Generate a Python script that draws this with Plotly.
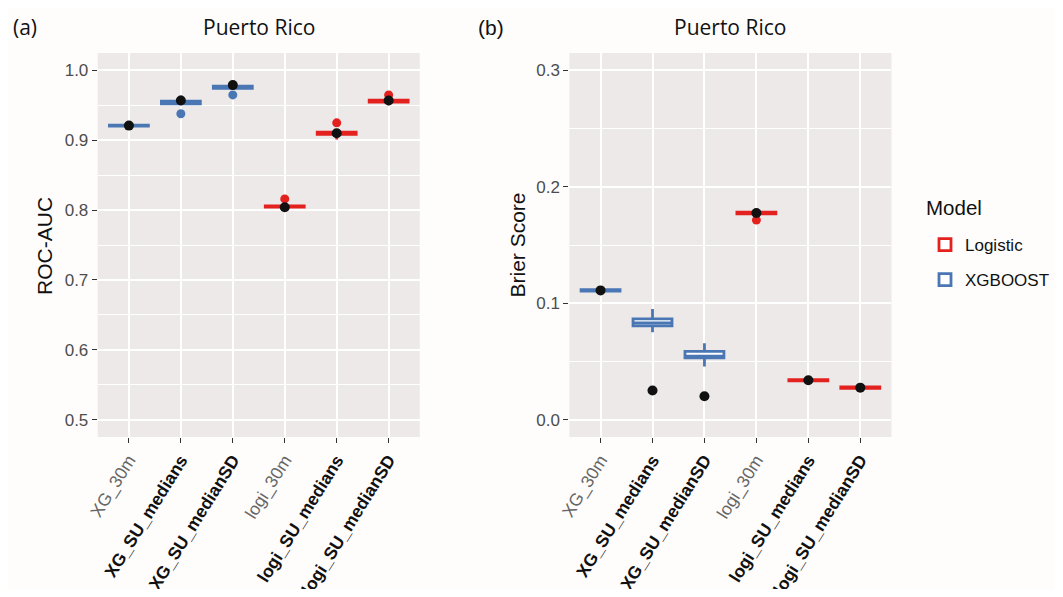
import plotly.graph_objects as go

# ---------------- data ----------------
categories = ["XG_30m", "XG_SU_medians", "XG_SU_medianSD",
              "logi_30m", "logi_SU_medians", "logi_SU_medianSD"]
models = ["XGBOOST", "XGBOOST", "XGBOOST", "Logistic", "Logistic", "Logistic"]

# Panel (a) ROC-AUC box statistics
roc_q1 = [0.9202, 0.9520, 0.9745, 0.8043, 0.9085, 0.9545]
roc_med = [0.9210, 0.9540, 0.9760, 0.8050, 0.9100, 0.9560]
roc_q3 = [0.9218, 0.9560, 0.9775, 0.8060, 0.9115, 0.9575]
roc_lo = [0.9198, 0.9500, 0.9730, 0.8020, 0.9010, 0.9500]
roc_hi = [0.9222, 0.9640, 0.9790, 0.8080, 0.9150, 0.9590]
roc_out_x = ["XG_SU_medians", "XG_SU_medianSD", "logi_30m", "logi_SU_medians", "logi_SU_medianSD"]
roc_out_y = [0.938, 0.965, 0.816, 0.925, 0.965]
roc_ref = [0.921, 0.957, 0.979, 0.804, 0.910, 0.957]

# Panel (b) Brier score box statistics
bri_q1 = [0.1103, 0.0805, 0.0530, 0.1768, 0.0333, 0.0268]
bri_med = [0.1110, 0.0830, 0.0545, 0.1775, 0.0338, 0.0274]
bri_q3 = [0.1117, 0.0865, 0.0585, 0.1782, 0.0343, 0.0280]
bri_lo = [0.1098, 0.0750, 0.0455, 0.1762, 0.0328, 0.0263]
bri_hi = [0.1122, 0.0950, 0.0655, 0.1788, 0.0348, 0.0285]
bri_out_x = ["logi_30m"]
bri_out_y = [0.1714]
bri_ref = [0.111, 0.025, 0.020, 0.1775, 0.0338, 0.0274]

tick_labels = ["XG_30m", "<b><span style='color:#111111'>XG_SU_medians</span></b>",
               "<b><span style='color:#111111'>XG_SU_medianSD</span></b>", "logi_30m",
               "<b><span style='color:#111111'>logi_SU_medians</span></b>",
               "<b><span style='color:#111111'>logi_SU_medianSD</span></b>"]

colors = {"Logistic": "#E3211E", "XGBOOST": "#4A77B4"}

OFF = 8  # page body margin
W, H = 1063 - 2 * OFF, 597 - 2 * OFF
def px(v): return (v - OFF) / W
def py(v): return 1 - (v - OFF) / H

fig = go.Figure()

def add_panel(xa, ya, q1, med, q3, lo, hi, ox, oy, ref, show_legend):
    for m in ["Logistic", "XGBOOST"]:
        idx = [i for i, mm in enumerate(models) if mm == m]
        fig.add_trace(go.Box(
            x=[categories[i] for i in idx],
            q1=[q1[i] for i in idx], median=[med[i] for i in idx],
            q3=[q3[i] for i in idx], lowerfence=[lo[i] for i in idx],
            upperfence=[hi[i] for i in idx],
            name=m, legendgroup=m, showlegend=show_legend,
            line=dict(color=colors[m], width=2.8), fillcolor="white",
            width=0.75, whiskerwidth=0, boxpoints=False,
            xaxis=xa, yaxis=ya, hoverinfo="skip"))
    oc = [colors[models[categories.index(c)]] for c in ox]
    fig.add_trace(go.Scatter(x=ox, y=oy, mode="markers", showlegend=False,
                             marker=dict(color=oc, size=9), xaxis=xa, yaxis=ya))
    fig.add_trace(go.Scatter(x=categories, y=ref, mode="markers", showlegend=False,
                             marker=dict(color="#111111", size=10), xaxis=xa, yaxis=ya))

add_panel("x", "y", roc_q1, roc_med, roc_q3, roc_lo, roc_hi, roc_out_x, roc_out_y, roc_ref, True)
add_panel("x2", "y2", bri_q1, bri_med, bri_q3, bri_lo, bri_hi, bri_out_x, bri_out_y, bri_ref, False)

sans = "Liberation Sans, Arial, sans-serif"
tickfont = dict(family=sans, size=17.5, color="#666666")
xcommon = dict(type="category", categoryorder="array", categoryarray=categories,
               tickmode="array", tickvals=categories, ticktext=tick_labels,
               tickangle=-58, tickfont=tickfont, ticks="outside", ticklen=5,
               tickcolor="#333333", tickwidth=1.2, showgrid=True, gridcolor="white",
               gridwidth=1.6, zeroline=False, showline=False, automargin=False,
               range=[-0.6, 5.6], fixedrange=True)
ytickfont = dict(family=sans, size=17, color="#4D4D4D")
ycommon = dict(ticks="outside", ticklen=5, tickcolor="#333333", tickwidth=1.2,
               tickfont=ytickfont, tickformat=".1f", showgrid=True, gridcolor="white",
               gridwidth=1.6, zeroline=False, showline=False, automargin=False)

fig.update_layout(
    width=W, height=H, margin=dict(l=0, r=0, t=0, b=0),
    paper_bgcolor="#FEFDFC", plot_bgcolor="#EDE9E9",
    boxmode="overlay",
    xaxis=dict(domain=[px(98), px(421)], anchor="y", **xcommon),
    yaxis=dict(domain=[py(437), py(53)], anchor="x", range=[0.475, 1.025],
               tickvals=[0.5, 0.6, 0.7, 0.8, 0.9, 1.0],
               minor=dict(showgrid=True, gridcolor="white", gridwidth=0.8,
                          tickvals=[0.55, 0.65, 0.75, 0.85, 0.95]), **ycommon),
    xaxis2=dict(domain=[px(571), px(894)], anchor="y2", **xcommon),
    yaxis2=dict(domain=[py(437), py(53)], anchor="x2", range=[-0.015, 0.315],
                tickvals=[0.0, 0.1, 0.2, 0.3],
                minor=dict(showgrid=True, gridcolor="white", gridwidth=0.8,
                           tickvals=[0.05, 0.15, 0.25]), **ycommon),
    legend=dict(x=px(928), y=py(227), xanchor="left", yanchor="top",
                font=dict(size=17, color="#111111", family=sans),
                bgcolor="rgba(0,0,0,0)", tracegroupgap=10, itemwidth=30),
    showlegend=True,
)

ann_font = dict(family="Open Sans, sans-serif", size=21, color="#111111")
annotations = [
    dict(text="(a)", x=px(25), y=py(27), font=ann_font),
    dict(text="(b)", x=px(492), y=py(27), font=dict(family=sans, size=21, color="#111111")),
    dict(text="Puerto Rico", x=px(259.5), y=py(27), font=ann_font),
    dict(text="Puerto Rico", x=px(732.5), y=py(27), font=ann_font),
    dict(text="ROC-AUC", x=px(44), y=py(246), textangle=-90,
         font=dict(family=sans, size=21, color="#111111")),
    dict(text="Brier Score", x=px(518), y=py(245), textangle=-90,
         font=dict(family=sans, size=21, color="#111111")),
    dict(text="Model", x=px(927), y=py(207), xanchor="left",
         font=dict(family=sans, size=20.5, color="#111111")),
]
for a in annotations:
    a.setdefault("xanchor", "center")
    a.update(xref="paper", yref="paper", showarrow=False, yanchor="middle")
fig.update_layout(annotations=annotations)

fig.write_html("out.html")
